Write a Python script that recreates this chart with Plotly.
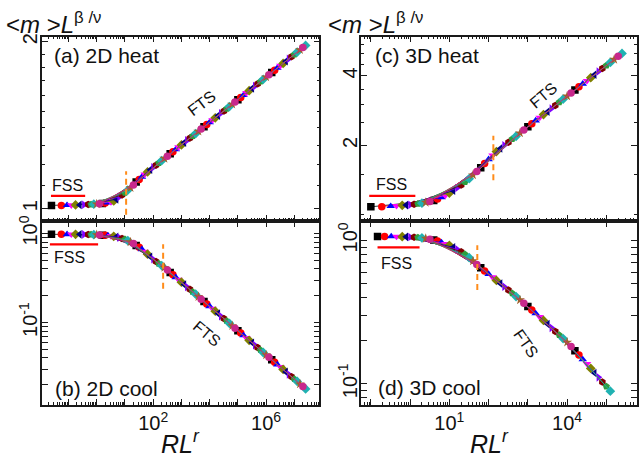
import plotly.graph_objects as go

# ---------------- data ----------------
# (a) 2D heat  /  (b) 2D cool share the same RL^r sampling
x_2d = [0.025, 0.056, 0.089, 0.126, 0.178, 0.25, 0.355, 0.5, 0.63, 0.79,
        1.0, 1.26, 1.58, 2.0, 2.5, 3.2, 4.0, 5.0, 6.3, 7.9,
        10, 12.6, 15.8, 20, 25, 32, 40, 50, 63, 79,
        100, 126, 158, 200, 250, 320, 400, 500, 630, 790,
        1e3, 1.26e3, 1.58e3, 2e3, 2.5e3, 3.2e3, 4e3, 5e3, 6.3e3, 7.9e3,
        1e4, 1.26e4, 1.58e4, 2e4, 2.5e4, 3.2e4, 4e4, 5e4, 6.3e4, 7.9e4,
        1e5, 1.26e5, 1.58e5, 2e5, 2.5e5, 3.2e5, 4e5, 5e5, 6.3e5, 7.9e5,
        1e6, 1.26e6, 1.58e6, 2e6, 2.5e6, 3.2e6, 4e6, 5e6, 6.3e6, 7.9e6,
        1e7, 1.26e7, 1.58e7, 2e7, 2.5e7]
y_2d_heat = [1.014, 1.014, 1.015, 1.015, 1.016, 1.016, 1.017, 1.018, 1.018, 1.019,
             1.020, 1.021, 1.022, 1.024, 1.026, 1.029, 1.033, 1.040, 1.050, 1.059,
             1.069, 1.080, 1.091, 1.104, 1.117, 1.129, 1.142, 1.153, 1.165, 1.176,
             1.187, 1.198, 1.209, 1.221, 1.232, 1.244, 1.256, 1.267, 1.279, 1.291,
             1.303, 1.316, 1.328, 1.341, 1.353, 1.366, 1.379, 1.392, 1.405, 1.418,
             1.431, 1.445, 1.458, 1.472, 1.486, 1.500, 1.514, 1.528, 1.542, 1.557,
             1.572, 1.587, 1.602, 1.617, 1.632, 1.648, 1.663, 1.679, 1.695, 1.711,
             1.727, 1.743, 1.760, 1.776, 1.793, 1.810, 1.827, 1.844, 1.862, 1.879,
             1.897, 1.915, 1.933, 1.951, 1.969]
y_2d_cool = [0.98, 0.98, 0.98, 0.98, 0.979, 0.978, 0.976, 0.974, 0.972, 0.969,
             0.965, 0.961, 0.957, 0.953, 0.947, 0.94, 0.93, 0.917, 0.90, 0.881,
             0.86, 0.834, 0.805, 0.771, 0.735, 0.70, 0.664, 0.624, 0.585, 0.548,
             0.514, 0.484, 0.458, 0.436, 0.414, 0.389, 0.365, 0.343, 0.322, 0.303,
             0.284, 0.267, 0.251, 0.236, 0.221, 0.208, 0.195, 0.183, 0.172, 0.162,
             0.152, 0.143, 0.134, 0.126, 0.118, 0.111, 0.104, 0.0979, 0.092, 0.0864,
             0.0811, 0.0762, 0.0716, 0.0672, 0.0631, 0.0593, 0.0557, 0.0523, 0.0491, 0.0461,
             0.0433, 0.0407, 0.0382, 0.0359, 0.0337, 0.0317, 0.0298, 0.0279, 0.0262, 0.0247,
             0.0232, 0.0218, 0.0204, 0.0192, 0.018]
# (c) 3D heat
x_3d_heat = [0.1, 0.19, 0.32, 0.45, 0.63, 0.79,
             1.0, 1.26, 1.58, 2.0, 2.5, 3.2, 4.0, 5.0, 6.3, 7.9,
             10, 12.6, 15.8, 20, 25, 32, 40, 50, 63, 79,
             100, 126, 158, 200, 250, 320, 400, 500, 630, 790,
             1e3, 1.26e3, 1.58e3, 2e3, 2.5e3, 3.2e3, 4e3, 5e3, 6.3e3, 7.9e3,
             1e4, 1.26e4, 1.58e4, 2e4, 2.5e4, 3.2e4, 4e4, 5e4, 6.3e4, 7.9e4,
             1e5, 1.26e5, 1.58e5, 2e5, 2.5e5]
y_3d_heat = [1.082, 1.084, 1.089, 1.093, 1.098, 1.101,
             1.104, 1.109, 1.115, 1.122, 1.131, 1.141, 1.154, 1.169, 1.188, 1.212,
             1.242, 1.272, 1.306, 1.344, 1.386, 1.434, 1.486, 1.541, 1.60, 1.668,
             1.74, 1.81, 1.88, 1.94, 2.00, 2.06, 2.13, 2.19, 2.26, 2.33,
             2.41, 2.48, 2.56, 2.64, 2.72, 2.80, 2.89, 2.98, 3.08, 3.17,
             3.27, 3.37, 3.48, 3.59, 3.70, 3.81, 3.93, 4.05, 4.18, 4.31,
             4.44, 4.58, 4.72, 4.87, 5.01]
# (d) 3D cool
x_3d_cool = [0.148, 0.224, 0.33, 0.45, 0.63, 0.79,
             1.0, 1.26, 1.58, 2.0, 2.5, 3.2, 4.0, 5.0, 6.3, 7.9,
             10, 12.6, 15.8, 20, 25, 32, 40, 50, 63, 79,
             100, 126, 158, 200, 250, 320, 400, 500, 630, 790,
             1e3, 1.26e3, 1.58e3, 2e3, 2.5e3, 3.2e3, 4e3, 5e3, 6.3e3, 7.9e3,
             1e4, 1.26e4, 1.58e4, 2e4, 2.5e4, 3.2e4, 4e4, 5e4, 6.3e4, 7.9e4,
             1e5, 1.26e5]
y_3d_cool = [1.066, 1.066, 1.066, 1.065, 1.062, 1.06,
             1.057, 1.054, 1.049, 1.042, 1.032, 1.021, 1.008, 0.99, 0.969, 0.947,
             0.924, 0.896, 0.867, 0.834, 0.80, 0.759, 0.72, 0.681, 0.644, 0.612,
             0.583, 0.554, 0.526, 0.50, 0.476, 0.451, 0.428, 0.406, 0.385, 0.365,
             0.346, 0.327, 0.31, 0.293, 0.277, 0.261, 0.246, 0.232, 0.219, 0.207,
             0.195, 0.182, 0.170, 0.159, 0.148, 0.138, 0.128, 0.119, 0.111, 0.103,
             0.096, 0.089]

# crossover (dashed) markers: x, [y_low, y_high]
dash_a = ([11, 11], [0.976, 1.169])
dash_b = ([225, 225], [0.239, 0.755])
dash_c = ([132, 132], [1.41, 2.2])
dash_d = ([51.5, 51.5], [0.452, 0.924])
# FSS red bars
fss_a = ([0.024, 0.39], [1.055, 1.055])
fss_b = ([0.022, 1.12], [0.755, 0.755])
fss_c = ([0.091, 1.36], [1.206, 1.206])
fss_d = ([0.148, 1.74], [0.895, 0.895])

panel_labels = ["(a) 2D heat", "(b) 2D cool", "(c) 3D heat", "(d) 3D cool"]
x_title = "<i>RL</i><sup><i>r</i></sup>"
y_title = "&lt;<i>m</i> &gt;<i>L</i><sup>β /ν</sup>"

left_decades = [0.01, 0.1, 1, 10, 100, 1e3, 1e4, 1e5, 1e6, 1e7]
right_decades = [0.01, 0.1, 1, 10, 100, 1e3, 1e4, 1e5, 1e6]
left_xlabels_at = [100, 1e6]
left_xlabels = ["10<sup>2</sup>", "10<sup>6</sup>"]
right_xlabels_at = [10, 1e4]
right_xlabels = ["10<sup>1</sup>", "10<sup>4</sup>"]
cool_ylabels_at = [0.1, 1]
cool_ylabels = ["10<sup>-1</sup>", "10<sup>0</sup>"]

COLORS = ['#000000', '#FF0000', '#0000FF', '#FF00FF', '#808000', '#000080',
          '#8000FF', '#800000', '#2E9E3E', '#20B2B2', '#A0602D', '#C8288C']
SYMBOLS = ['square', 'circle', 'triangle-up', 'triangle-down', 'diamond', 'triangle-left',
           'triangle-right', 'hexagon', 'pentagon', 'diamond', 'star', 'circle']
LAST_SERIES = 9   # the cyan diamonds end every curve

# ---------------- figure ----------------
W, H = 639, 466
fig = go.Figure()


def px(xp):
    return xp / W


def py(yp):
    return 1 - yp / H


panels = [
    (x_2d, y_2d_heat, 'x', 'y', dash_a, fss_a),
    (x_2d, y_2d_cool, 'x2', 'y2', dash_b, fss_b),
    (x_3d_heat, y_3d_heat, 'x3', 'y3', dash_c, fss_c),
    (x_3d_cool, y_3d_cool, 'x4', 'y4', dash_d, fss_d),
]
S = len(COLORS)
for xs, ys, xa, ya, dsh, fss in panels:
    n = len(xs)
    for k in range(S):
        idx = [i for i in range(n - 1) if i % S == k]
        if k == LAST_SERIES:
            idx.append(n - 1)
        fig.add_trace(go.Scatter(
            x=[xs[i] for i in idx], y=[ys[i] for i in idx], mode='lines+markers',
            xaxis=xa, yaxis=ya,
            line=dict(color=COLORS[k], width=0.8),
            marker=dict(color=COLORS[k], symbol=SYMBOLS[k], size=7.5, line=dict(width=0)),
            showlegend=False, hoverinfo='skip'))
    fig.add_trace(go.Scatter(x=dsh[0], y=dsh[1], mode='lines', xaxis=xa, yaxis=ya,
                             line=dict(color='#FF8C1A', width=2, dash='6px,4px'),
                             showlegend=False, hoverinfo='skip'))
    fig.add_trace(go.Scatter(x=fss[0], y=fss[1], mode='lines', xaxis=xa, yaxis=ya,
                             line=dict(color='#FF0000', width=2.2),
                             showlegend=False, hoverinfo='skip'))

# invisible anchors for the overlay tick axes
fig.add_trace(go.Scatter(x=[1], y=[0.5], xaxis='x5', yaxis='y2', mode='markers',
                         marker=dict(opacity=0), showlegend=False, hoverinfo='skip'))
fig.add_trace(go.Scatter(x=[1], y=[0.5], xaxis='x6', yaxis='y4', mode='markers',
                         marker=dict(opacity=0), showlegend=False, hoverinfo='skip'))

FONT = "Arial, Liberation Sans, sans-serif"
LC = '#1a1a1a'
common = dict(showline=True, linecolor=LC, linewidth=1.5, mirror='allticks', ticks='inside',
              ticklen=6, tickwidth=1.2, tickcolor=LC, showgrid=False, zeroline=False,
              type='log', tickfont=dict(family=FONT, size=20, color='#111'))


def minor_vals(lo, hi):
    vals = []
    for d in range(lo, hi):
        for m in range(2, 10):
            vals.append(m * 10.0 ** d)
    return vals


left_dom = [42 / W, 320 / W]
right_dom = [362 / W, 638 / W]
top_dom = [py(218), py(32)]
bot_dom = [py(404), py(218)]
L_RANGE = [-1.94, 7.89]
R_RANGE = [-1.24, 5.78]


def mnr(vals):
    return dict(ticks='inside', ticklen=3, tickwidth=1, tickcolor=LC, tickvals=vals)


fig.update_layout(
    width=W, height=H, margin=dict(l=0, r=0, t=0, b=0),
    paper_bgcolor='white', plot_bgcolor='white',
    xaxis=dict(common, domain=left_dom, anchor='y', range=L_RANGE, tickmode='array',
               tickvals=left_decades, showticklabels=False, minor=mnr(minor_vals(-2, 8))),
    xaxis2=dict(common, domain=left_dom, anchor='y2', range=L_RANGE, tickmode='array',
                tickvals=left_xlabels_at, ticktext=left_xlabels, minor=mnr(minor_vals(-2, 8))),
    xaxis5=dict(common, overlaying='x2', anchor='y2', range=L_RANGE, tickmode='array',
                tickvals=left_decades, showticklabels=False, showline=False),
    xaxis3=dict(common, domain=right_dom, anchor='y3', range=R_RANGE, tickmode='array',
                tickvals=right_decades, showticklabels=False, minor=mnr(minor_vals(-2, 6))),
    xaxis4=dict(common, domain=right_dom, anchor='y4', range=R_RANGE, tickmode='array',
                tickvals=right_xlabels_at, ticktext=right_xlabels, minor=mnr(minor_vals(-2, 6))),
    xaxis6=dict(common, overlaying='x4', anchor='y4', range=R_RANGE, tickmode='array',
                tickvals=right_decades, showticklabels=False, showline=False),
    yaxis=dict(common, domain=top_dom, anchor='x', range=[-0.0214, 0.310], tickmode='array',
               tickvals=[1, 2], ticktext=['1', '2'], tickangle=-90, ticklabelstandoff=-5,
               minor=mnr([1.1, 1.2, 1.3, 1.4, 1.5, 1.6, 1.7, 1.8, 1.9])),
    yaxis2=dict(common, domain=bot_dom, anchor='x2', range=[-1.922, 0.144], tickmode='array',
                tickvals=cool_ylabels_at, ticktext=cool_ylabels, tickangle=-90,
                ticklabelstandoff=-5, minor=mnr(minor_vals(-2, 0))),
    yaxis3=dict(common, domain=top_dom, anchor='x3', range=[-0.0258, 0.7725], tickmode='array',
                tickvals=[2, 4], ticktext=['2', '4'], tickangle=-90, ticklabelstandoff=-5,
                minor=mnr([1, 1.5, 2.5, 3, 3.5, 4.5, 5, 5.5])),
    yaxis4=dict(common, domain=bot_dom, anchor='x4', range=[-1.145, 0.138], tickmode='array',
                tickvals=cool_ylabels_at, ticktext=cool_ylabels, tickangle=-90,
                ticklabelstandoff=-5, minor=mnr(minor_vals(-2, 0))),
)

ann = []


def add_text(text, x, y, size, xanchor='center', yanchor='middle', angle=0):
    ann.append(dict(text=text, x=px(x), y=py(y), xref='paper', yref='paper', showarrow=False,
                    xanchor=xanchor, yanchor=yanchor, textangle=angle,
                    font=dict(family=FONT, size=size, color='#111')))


add_text(panel_labels[0], 52, 51, 21, xanchor='left')
add_text(panel_labels[1], 53, 388, 21, xanchor='left')
add_text(panel_labels[2], 374, 51, 21, xanchor='left')
add_text(panel_labels[3], 377, 387, 21, xanchor='left')
for (fx, fy) in [(68, 182), (70, 255), (392, 181), (397, 261)]:
    add_text("FSS", fx, fy, 16)
add_text("FTS", 202, 100, 16, angle=-37)
add_text("FTS", 207, 332, 16, angle=40)
add_text("FTS", 544, 91, 16, angle=-40)
add_text("FTS", 527, 342, 16, angle=55)
add_text(x_title, 181, 442, 25)
add_text(x_title, 490, 442, 25)
add_text(y_title, 4, 18, 24, xanchor='left')
add_text(y_title, 327, 18, 24, xanchor='left')
fig.update_layout(annotations=ann)

fig.write_html("out.html")
